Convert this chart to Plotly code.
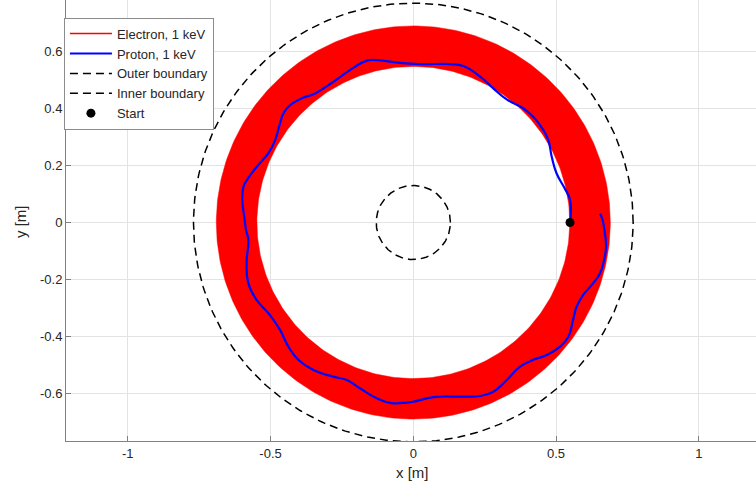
import numpy as np
import plotly.graph_objects as go

# ---------------- data ----------------
# Proton, 1 keV trajectory (x, y in metres), from the start point counter-clockwise
proton_x = [0.549, 0.551, 0.549, 0.530, 0.502, 0.485, 0.473, 0.455, 0.420, 0.385,
            0.327, 0.280, 0.234, 0.175, 0.129, 0.023, -0.052, -0.128, -0.163, -0.222,
            -0.280, -0.344, -0.391, -0.432, -0.455, -0.467, -0.484, -0.508, -0.543, -0.583,
            -0.595, -0.599, -0.592, -0.586, -0.578, -0.584, -0.578, -0.549, -0.502, -0.467,
            -0.438, -0.403, -0.350, -0.280, -0.233, -0.187, -0.128, -0.076, -0.023, 0.000,
            0.070, 0.140, 0.180, 0.234, 0.280, 0.327, 0.374, 0.420, 0.467, 0.514,
            0.543, 0.560, 0.572, 0.595, 0.630, 0.654, 0.668, 0.675, 0.671, 0.663,
            0.654]
proton_y = [0.000, 0.020, 0.079, 0.120, 0.172, 0.230, 0.289, 0.325, 0.371, 0.401,
            0.432, 0.471, 0.512, 0.549, 0.556, 0.556, 0.561, 0.570, 0.568, 0.535,
            0.494, 0.453, 0.436, 0.412, 0.383, 0.348, 0.289, 0.243, 0.202, 0.149,
            0.126, 0.079, 0.020, -0.026, -0.061, -0.143, -0.213, -0.272, -0.325, -0.377,
            -0.435, -0.482, -0.518, -0.541, -0.553, -0.582, -0.617, -0.634, -0.632, -0.629,
            -0.613, -0.611, -0.611, -0.609, -0.594, -0.553, -0.506, -0.482, -0.465, -0.436,
            -0.401, -0.340, -0.295, -0.254, -0.213, -0.178, -0.132, -0.085, -0.038, 0.009,
            0.032]

# Electron, 1 keV: dense gyration filling an annulus (inner, outer radius in m)
electron_band_r = [0.548, 0.690]

# Boundaries (radius in m)
outer_boundary_r = 0.77
inner_boundary_r = 0.13

# Start point
start_x = [0.549]
start_y = [0.0]

# Ticks
x_ticks = [-1, -0.5, 0, 0.5, 1]
x_ticktext = ["-1", "-0.5", "0", "0.5", "1"]
y_ticks = [-0.6, -0.4, -0.2, 0, 0.2, 0.4, 0.6]
y_ticktext = ["-0.6", "-0.4", "-0.2", "0", "0.2", "0.4", "0.6"]

# ---------------- geometry helpers ----------------
theta = np.linspace(0, 2 * np.pi, 361)


def circle(r):
    return (r * np.cos(theta)).tolist(), (r * np.sin(theta)).tolist()


ox, oy = circle(electron_band_r[1])
ix, iy = circle(electron_band_r[0])
# closed annulus polygon (outer ccw, inner cw)
band_x = ox + ix[::-1] + [ox[0]]
band_y = oy + iy[::-1] + [oy[0]]

obx, oby = circle(outer_boundary_r)
ibx, iby = circle(inner_boundary_r)

FONT = "Liberation Sans, Arial, Helvetica, sans-serif"
TXT = "#262626"
DASH = "8px,5px"

fig = go.Figure()

# Electron band
fig.add_trace(go.Scatter(x=band_x, y=band_y, mode="lines", fill="toself",
                         fillcolor="#ff0000", line=dict(color="#ff0000", width=0.5),
                         showlegend=False, hoverinfo="skip"))
fig.add_trace(go.Scatter(x=[None], y=[None], mode="lines", name="Electron, 1 keV",
                         line=dict(color="#ff0000", width=1.5)))
# Proton
fig.add_trace(go.Scatter(x=proton_x, y=proton_y, mode="lines", name="Proton, 1 keV",
                         line=dict(color="#0000ff", width=2.2, shape="spline", smoothing=1.3)))
# Boundaries
fig.add_trace(go.Scatter(x=obx, y=oby, mode="lines", name="Outer boundary",
                         line=dict(color="black", width=1.5, dash=DASH)))
fig.add_trace(go.Scatter(x=ibx, y=iby, mode="lines", name="Inner boundary",
                         line=dict(color="black", width=1.5, dash=DASH)))
# Start
fig.add_trace(go.Scatter(x=start_x, y=start_y, mode="markers", name="Start",
                         marker=dict(color="black", size=9)))

axis_common = dict(
    showgrid=True, gridcolor="#e3e3e3", gridwidth=1, zeroline=False,
    showline=True, linecolor="#808080", linewidth=1,
    ticks="inside", ticklen=5, tickcolor="#808080", tickwidth=1,
    tickfont=dict(family=FONT, size=13, color=TXT),
)

fig.update_layout(
    width=756, height=484,
    margin=dict(l=66, r=0, t=0, b=43),
    paper_bgcolor="white", plot_bgcolor="white",
    font=dict(family=FONT, size=13, color=TXT),
    xaxis=dict(range=[-1.2165, 1.2003], tickvals=x_ticks, ticktext=x_ticktext, **axis_common),
    yaxis=dict(range=[-0.767, 0.781], tickvals=y_ticks, ticktext=y_ticktext, **axis_common),
    legend=dict(x=-0.003, y=0.96, xanchor="left", yanchor="top",
                bgcolor="white", bordercolor="#8c8c8c", borderwidth=1,
                font=dict(family=FONT, size=13, color=TXT),
                itemwidth=42, tracegroupgap=0),
    annotations=[
        dict(text="x [m]", xref="paper", yref="paper", x=(413 - 66) / 690, y=-31 / 441,
             xanchor="center", yanchor="middle", showarrow=False,
             font=dict(family=FONT, size=15, color=TXT)),
        dict(text="y [m]", xref="paper", yref="paper", x=-46 / 690, y=(441 - 222) / 441,
             xanchor="center", yanchor="middle", showarrow=False, textangle=-90,
             font=dict(family=FONT, size=15, color=TXT)),
    ],
)

fig.write_html("out.html",
               config={"displayModeBar": False},
               post_script="document.body.style.margin='0';document.body.style.overflow='hidden';")
